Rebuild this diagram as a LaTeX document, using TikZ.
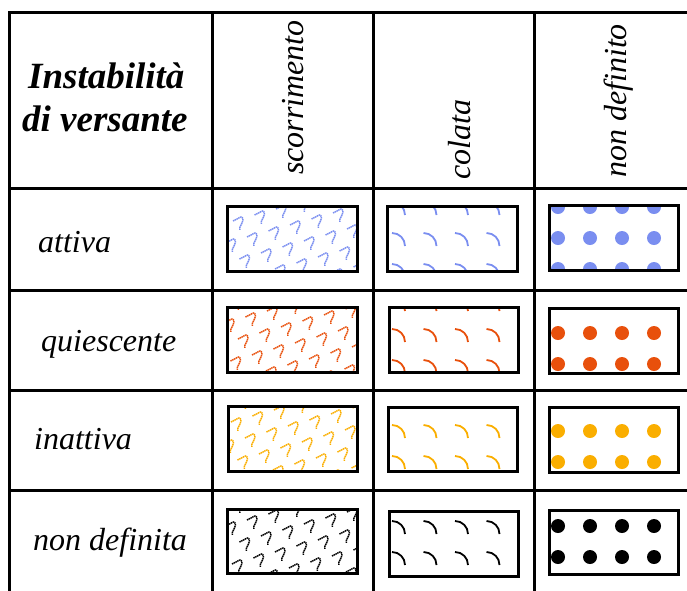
\documentclass[tikz,border=0pt]{standalone}
\usepackage{fontspec}
\setmainfont{Liberation Serif}
\definecolor{cblue}{RGB}{122,142,240}
\definecolor{corange}{RGB}{232,80,12}
\definecolor{cyellow}{RGB}{250,174,0}
\definecolor{cblack}{RGB}{0,0,0}
\tikzset{
  grid/.style={line width=3pt, line cap=rect},
  box/.style={minimum width=129pt, minimum height=64pt, inner sep=0pt},
  boxline/.style={line width=2.8pt},
  rowlab/.style={anchor=base west, inner sep=0pt, font=\fontsize{32}{38}\selectfont\itshape},
  collab/.style={anchor=base west, inner sep=0pt, rotate=90, font=\fontsize{32}{38}\selectfont\itshape},
  headlab/.style={anchor=base west, inner sep=0pt, font=\fontsize{37}{44}\selectfont\bfseries\itshape},
  glyph/.style={line width=1.5pt, dash pattern=on 1.4pt off 0.6pt},
  arcst/.style={line width=1.8pt},
}
% scorrimento pattern: #1 box, #2 colour, #3 origin x, #4 origin y
\newcommand\scorrpat[4]{%
  \begin{scope}
    \clip (#1.south west) rectangle (#1.north east);
    \foreach \i in {-4,...,8}{
      \foreach \j in {-4,...,6}{
        \pgfmathsetmacro\gx{#3+21.5*\i+14*\j}
        \pgfmathsetmacro\gy{#4-6*\i+16*\j}
        \draw[glyph,#2] plot[smooth] coordinates {(\gx,\gy+2) (\gx+4,\gy) (\gx+8,\gy-2) (\gx+10,\gy) (\gx+9,\gy+4) (\gx+7,\gy+8) (\gx+7,\gy+11)};
      }
    }
  \end{scope}}
% colata pattern: #1 box, #2 colour, #3 first row y
\newcommand\colatapat[3]{%
  \begin{scope}
    \clip (#1.south west) rectangle (#1.north east);
    \foreach \i in {0,...,3}{
      \foreach \j in {-1,...,2}{
        \pgfmathsetmacro\gx{392+31.5*\i}
        \pgfmathsetmacro\gy{#3+31*\j}
        \draw[arcst,#2] (\gx,\gy) .. controls +(7.2,0) and +(0,-7.2) .. (\gx+13,\gy+13);
      }
    }
  \end{scope}}
% dots pattern: #1 box, #2 colour, #3 first row y
\newcommand\dotpat[3]{%
  \begin{scope}
    \clip (#1.south west) rectangle (#1.north east);
    \foreach \i in {0,...,3}{
      \foreach \j in {-1,...,2}{
        \fill[#2] (558+32*\i, #3+31*\j) circle[radius=7];
      }
    }
  \end{scope}}
\begin{document}
\begin{tikzpicture}[x=1pt,y=-1pt]
\useasboundingbox (0,0) rectangle (687,590);
\clip (0,0) rectangle (687,590);
% grid
\coordinate (tl) at (9,12);
\coordinate (tr) at (700,12);
\coordinate (bl) at (9,600);
\draw[grid] (tl) -- (tr);
\draw[grid] (tl) -- (bl);
\foreach \yy in {188,290,390,490}{\draw[grid] (9,\yy) -- (700,\yy);}
\foreach \xx in {212,373,534}{\draw[grid] (\xx,12) -- (\xx,600);}
% headers
\node[headlab] (h1) at (28,88) {Instabilità};
\node[headlab] (h2) at (22,131) {di versante};
\node[collab] (c1) at (303,175) {scorrimento};
\node[collab] (c2) at (470,180) {colata};
\node[collab] (c3) at (626,178) {non definito};
% row labels
\node[rowlab] (r1) at (38,252) {attiva};
\node[rowlab] (r2) at (41,351) {quiescente};
\node[rowlab] (r3) at (34,449) {inattiva};
\node[rowlab] (r4) at (33,550) {non definita};
% boxes (centres)
\node[box] (s1) at (292.5,239) {};
\node[box] (s2) at (292.5,340) {};
\node[box] (s3) at (293,439) {};
\node[box] (s4) at (292.5,541.5) {};
\node[box] (k1) at (452.5,239) {};
\node[box] (k2) at (454,340) {};
\node[box] (k3) at (453,439.5) {};
\node[box] (k4) at (454,544) {};
\node[box] (d1) at (614,238) {};
\node[box] (d2) at (614,341) {};
\node[box] (d3) at (614,440) {};
\node[box] (d4) at (614,542.5) {};
% patterns
\scorrpat{s1}{cblue}{247}{235}
\scorrpat{s2}{corange}{238}{337}
\scorrpat{s3}{cyellow}{245}{436}
\scorrpat{s4}{cblack}{247}{518}
\colatapat{k1}{cblue}{233}
\colatapat{k2}{corange}{329}
\colatapat{k3}{cyellow}{425}
\colatapat{k4}{cblack}{521}
\dotpat{d1}{cblue}{238}
\dotpat{d2}{corange}{333}
\dotpat{d3}{cyellow}{431}
\dotpat{d4}{cblack}{526}
% box borders on top
\foreach \b in {s1,s2,s3,s4,k1,k2,k3,k4,d1,d2,d3,d4}{
  \draw[boxline] (\b.south west) rectangle (\b.north east);
}
\end{tikzpicture}
\end{document}
